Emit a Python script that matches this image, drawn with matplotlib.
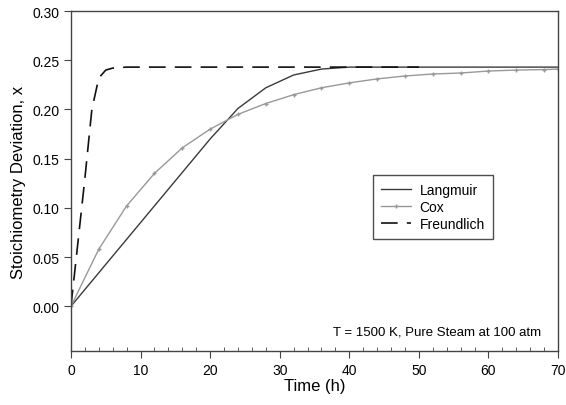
import matplotlib
matplotlib.use("Agg")
import matplotlib.pyplot as plt
from matplotlib.ticker import MultipleLocator

plt.rcParams['font.family'] = ['Liberation Sans', 'DejaVu Sans']

# Data
langmuir_t = [0, 4, 8, 12, 16, 20, 24, 28, 32, 36, 40, 44, 50, 60, 70]
langmuir_x = [0.0, 0.034, 0.068, 0.102, 0.136, 0.170, 0.201, 0.222, 0.235, 0.241, 0.243, 0.243, 0.243, 0.243, 0.243]

cox_t = [0, 4, 8, 12, 16, 20, 24, 28, 32, 36, 40, 44, 48, 52, 56, 60, 64, 68, 70]
cox_x = [0.0, 0.058, 0.102, 0.135, 0.161, 0.180, 0.195, 0.206, 0.215, 0.222, 0.227, 0.231, 0.234, 0.236, 0.237, 0.239, 0.240, 0.2405, 0.241]

freund_t = [0, 1, 2, 3, 4, 5, 6, 8, 50]
freund_x = [0.0, 0.065, 0.13, 0.200, 0.232, 0.240, 0.242, 0.243, 0.243]

xticks = [0, 10, 20, 30, 40, 50, 60, 70]
yticks = [0.00, 0.05, 0.10, 0.15, 0.20, 0.25, 0.30]

fig = plt.figure(figsize=(5.66, 4.06), dpi=100)
ax = fig.add_axes([0.1254, 0.133, 0.8606, 0.8374])

ax.plot(langmuir_t, langmuir_x, color='#3a3a3a', lw=1.0, label='Langmuir')
ax.plot(cox_t, cox_x, color='#999999', lw=1.0, marker='+', ms=3, mew=1.0, label='Cox')
ax.plot(freund_t, freund_x, color='#111111', lw=1.2, dashes=(10, 5.5), label='Freundlich')

ax.set_xlim(0, 70)
ax.set_ylim(-0.0455, 0.30)
ax.set_xticks(xticks)
ax.set_yticks(yticks)
ax.set_yticklabels([f"{v:.2f}" for v in yticks])
ax.xaxis.set_minor_locator(MultipleLocator(2))
ax.tick_params(axis='x', which='major', direction='out', length=5, labelsize=10, color='#444444')
ax.tick_params(axis='x', which='minor', direction='in', length=3, color='#444444')
ax.tick_params(axis='y', which='major', direction='out', length=5, labelsize=10, color='#444444')
for s in ax.spines.values():
    s.set_color('#444444')
    s.set_linewidth(1.0)

ax.set_xlabel('Time (h)', fontsize=12, labelpad=1)
ax.set_ylabel('Stoichiometry Deviation, x', fontsize=12, labelpad=4)

leg = ax.legend(loc='upper left', bbox_to_anchor=(0.620, 0.5176), fontsize=10,
                frameon=True, fancybox=False, edgecolor='#222222', borderaxespad=0,
                handlelength=2.15, labelspacing=0.2, borderpad=0.6, handletextpad=0.6)
leg.get_frame().set_linewidth(1.0)

ax.text(0.965, 0.041, 'T = 1500 K, Pure Steam at 100 atm', transform=ax.transAxes,
        ha='right', va='bottom', fontsize=9.5)

fig.savefig('out.png', dpi=100)
